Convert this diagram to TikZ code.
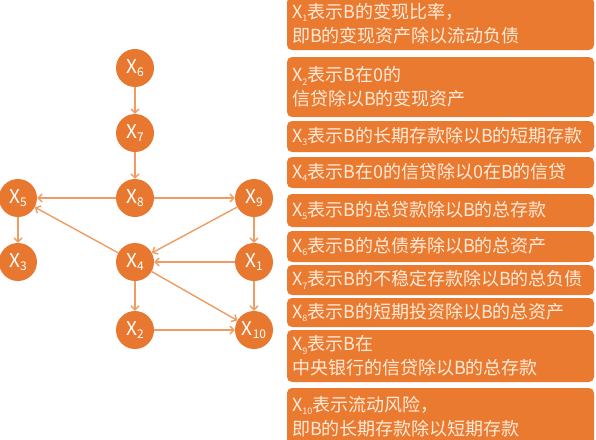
\documentclass[tikz,border=0pt]{standalone}
\usepackage{fontspec}
\setmainfont{Noto Sans CJK SC}
\usepackage{xcolor}
\usepackage{tikz}
\usetikzlibrary{arrows.meta}
\definecolor{nodeor}{HTML}{E8782F}
\definecolor{boxor}{HTML}{EB7A31}
\definecolor{edgeor}{HTML}{EE9C62}
\definecolor{cream}{HTML}{FDEBDA}
\newcommand{\xsub}[2][9]{X\raisebox{-0.35ex}{\fontsize{#1}{#1}\selectfont #2}}

\begin{document}
\begin{tikzpicture}[x=1pt,y=-1pt,
  var/.style={circle, fill=nodeor, text=white, minimum size=38pt, inner sep=0pt,
    font=\fontsize{19}{19}\selectfont},
  link/.style={edgeor, line width=1.4pt, -{Straight Barb[length=4pt,width=8pt]}},
  infobox/.style={fill=boxor, rounded corners=5pt, text=cream, text width=297pt,
    align=left, inner xsep=5pt, inner ysep=0pt, font=\fontsize{18}{24}\selectfont}]
\useasboundingbox (0,0) rectangle (596,439);

% the network
\node[var] (x6)  at (135,68)  {\xsub[12]{6}};
\node[var] (x7)  at (135,133) {\xsub[12]{7}};
\node[var] (x8)  at (135,198) {\xsub[12]{8}};
\node[var] (x5)  at (18,198)  {\xsub[12]{5}};
\node[var] (x9)  at (254,198) {\xsub[12]{9}};
\node[var] (x3)  at (18,262)  {\xsub[12]{3}};
\node[var] (x4)  at (135,262) {\xsub[12]{4}};
\node[var] (x1)  at (254,262) {\xsub[12]{1}};
\node[var] (x2)  at (135,330) {\xsub[12]{2}};
\node[var] (x10) at (254,330) {\xsub[12]{10}};

\draw[link] (x6) -- (x7);
\draw[link] (x7) -- (x8);
\draw[link] (x8) -- (x5);
\draw[link] (x8) -- (x9);
\draw[link] (x5) -- (x3);
\draw[link] (x9) -- (x4);
\draw[link] (x9) -- (x1);
\draw[link] (x1) -- (x4);
\draw[link] (x4) -- (x5);
\draw[link] (x4) -- (x2);
\draw[link] (x4) -- (x10);
\draw[link] (x1) -- (x10);
\draw[link] (x2) -- (x10);

% the legend
\node[infobox, minimum height=53pt] (b1)  at (440.5,23.5) {\xsub{1}表示B的变现比率，\\即B的变现资产除以流动负债};
\node[infobox, minimum height=60pt] (b2)  at (440.5,87)   {\xsub{2}表示B在0的\\信贷除以B的变现资产};
\node[infobox, minimum height=31pt] (b3)  at (440.5,136.5) {\xsub{3}表示B的长期存款除以B的短期存款};
\node[infobox, minimum height=31pt] (b4)  at (440.5,172.5) {\xsub{4}表示B在0的信贷除以0在B的信贷};
\node[infobox, minimum height=33pt] (b5)  at (440.5,210.5) {\xsub{5}表示B的总贷款除以B的总存款};
\node[infobox, minimum height=31pt] (b6)  at (440.5,246.5) {\xsub{6}表示B的总债券除以B的总资产};
\node[infobox, minimum height=30pt] (b7)  at (440.5,280)   {\xsub{7}表示B的不稳定存款除以B的总负债};
\node[infobox, minimum height=29pt] (b8)  at (440.5,312.5) {\xsub{8}表示B的短期投资除以B的总资产};
\node[infobox, minimum height=52pt] (b9)  at (440.5,356)   {\xsub{9}表示B在\\中央银行的信贷除以B的总存款};
\node[infobox, minimum height=57pt] (b10) at (440.5,416.5) {\xsub{10}表示流动风险，\\即B的长期存款除以短期存款};
\end{tikzpicture}
\end{document}
